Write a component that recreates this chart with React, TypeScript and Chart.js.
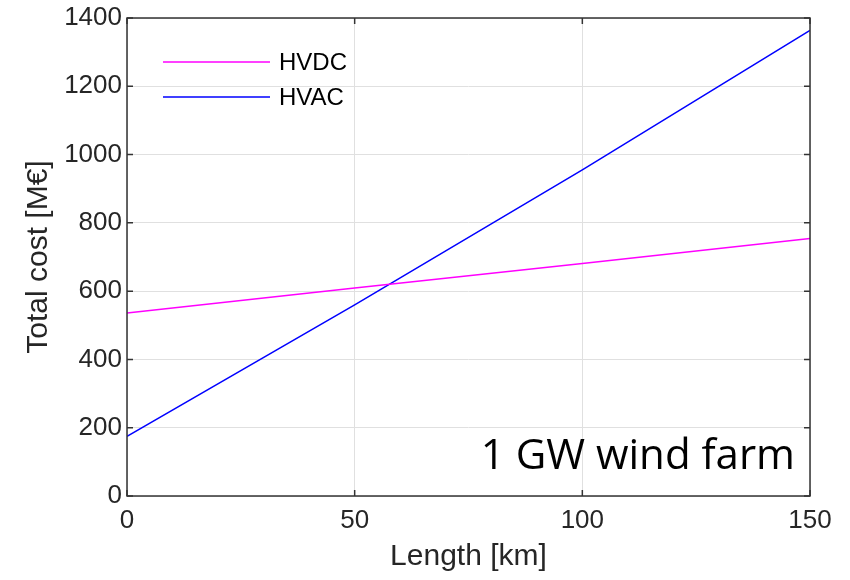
import React, { useEffect, useRef } from "react";
import { Chart, registerables } from "chart.js";

Chart.register(...registerables);

const lengthKm = [0, 50, 100, 150];
const hvdcCost = [536, 609, 681, 754];
const hvacCost = [175, 560, 955, 1364];
const xTicks = [0, 50, 100, 150];
const yTicks = [0, 200, 400, 600, 800, 1000, 1200, 1400];
const seriesNames = ["HVDC", "HVAC"];
const annotationText = "1 GW wind farm";

const TICK_FONT = "Liberation Sans, Arial, sans-serif";

const boxPlugin = {
  id: "matlabBox",
  afterDatasetsDraw(chart: any) {
    const { ctx, chartArea } = chart;
    const { left, right, top, bottom } = chartArea;
    const xs = chart.scales.x;
    const ys = chart.scales.y;
    ctx.save();
    ctx.strokeStyle = "#333333";
    ctx.lineWidth = 1.5;
    ctx.strokeRect(left, top, right - left, bottom - top);
    ctx.beginPath();
    const tl = 6;
    xTicks.forEach((v) => {
      const px = xs.getPixelForValue(v);
      ctx.moveTo(px, bottom);
      ctx.lineTo(px, bottom - tl);
      ctx.moveTo(px, top);
      ctx.lineTo(px, top + tl);
    });
    yTicks.forEach((v) => {
      const py = ys.getPixelForValue(v);
      ctx.moveTo(left, py);
      ctx.lineTo(left + tl, py);
      ctx.moveTo(right, py);
      ctx.lineTo(right - tl, py);
    });
    ctx.stroke();

    // legend
    const colors = ["#ff00ff", "#0000ff"];
    const ly = [62, 97];
    ctx.font = "24px " + TICK_FONT;
    ctx.textBaseline = "middle";
    ctx.textAlign = "left";
    seriesNames.forEach((name, i) => {
      ctx.strokeStyle = colors[i];
      ctx.lineWidth = 1.5;
      ctx.beginPath();
      ctx.moveTo(left + 36, ly[i]);
      ctx.lineTo(left + 143, ly[i]);
      ctx.stroke();
      ctx.fillStyle = "#000";
      ctx.fillText(name, left + 152, ly[i] + 1);
    });

    // annotation
    ctx.font = "42px 'Open Sans', sans-serif";
    ctx.textAlign = "right";
    ctx.textBaseline = "alphabetic";
    ctx.fillStyle = "#000";
    ctx.fillText(annotationText, right - 15, 469);
    ctx.restore();
  },
};

export default function App() {
  const ref = useRef<HTMLCanvasElement>(null);
  useEffect(() => {
    document.body.style.margin = "0";
    const canvas = ref.current!;
    const chart = new Chart(canvas, {
      type: "line",
      data: {
        datasets: [
          {
            label: seriesNames[0],
            data: lengthKm.map((x, i) => ({ x, y: hvdcCost[i] })),
            borderColor: "#ff00ff",
            borderWidth: 1.5,
            pointRadius: 0,
            fill: false,
          },
          {
            label: seriesNames[1],
            data: lengthKm.map((x, i) => ({ x, y: hvacCost[i] })),
            borderColor: "#0000ff",
            borderWidth: 1.5,
            pointRadius: 0,
            fill: false,
          },
        ],
      },
      options: {
        animation: false,
        responsive: false,
        maintainAspectRatio: false,
        layout: { padding: { top: 17, right: 40, left: 0, bottom: 0 } },
        plugins: { legend: { display: false }, tooltip: { enabled: false } },
        scales: {
          x: {
            type: "linear",
            min: 0,
            max: 150,
            afterBuildTicks: (s: any) => {
              s.ticks = xTicks.map((v) => ({ value: v }));
            },
            afterFit: (s: any) => {
              s.height = 84;
            },
            border: { display: false },
            grid: { color: "#e0e0e0", lineWidth: 1, drawTicks: false },
            ticks: {
              padding: 9,
              color: "#262626",
              font: { family: TICK_FONT, size: 26 },
              maxRotation: 0,
              callback: (v: any) => String(v),
            },
            title: {
              display: true,
              text: "Length [km]",
              color: "#262626",
              font: { family: TICK_FONT, size: 30 },
              padding: { top: 0, bottom: 5 },
            },
          },
          y: {
            type: "linear",
            min: 0,
            max: 1400,
            afterBuildTicks: (s: any) => {
              s.ticks = yTicks.map((v) => ({ value: v }));
            },
            afterFit: (s: any) => {
              s.width = 127;
            },
            border: { display: false },
            grid: { color: "#e0e0e0", lineWidth: 1, drawTicks: false },
            ticks: {
              padding: 5,
              color: "#262626",
              font: { family: TICK_FONT, size: 26, lineHeight: 1 },
              callback: (v: any) => String(v),
            },
            title: {
              display: true,
              text: "Total cost [M€]",
              color: "#262626",
              font: { family: TICK_FONT, size: 30 },
              padding: { top: 21, bottom: 0 },
            },
          },
        },
      },
      plugins: [boxPlugin],
    } as any);
    return () => chart.destroy();
  }, []);
  return (
    <div style={{ width: 850, height: 580, background: "#fff" }}>
      <canvas ref={ref} width={850} height={580} style={{ display: "block" }} />
    </div>
  );
}
